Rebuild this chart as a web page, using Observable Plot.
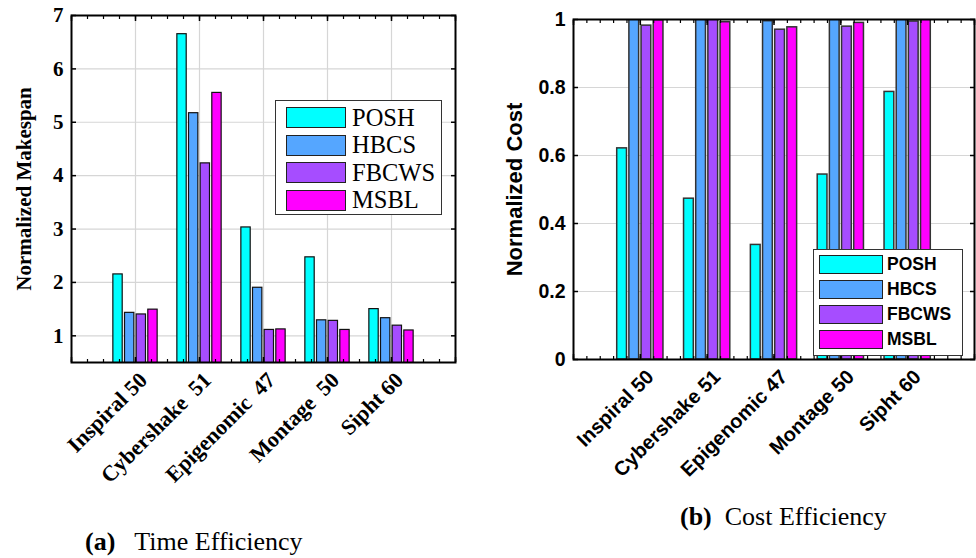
<!DOCTYPE html>
<html><head><meta charset="utf-8">
<script src="https://cdn.jsdelivr.net/npm/d3@7"></script>
<script src="https://cdn.jsdelivr.net/npm/@observablehq/plot@0.6"></script>
<style>
body{margin:0;background:#fff;width:976px;height:558px;position:relative;overflow:hidden}
.abs{position:absolute}
svg text{white-space:pre}
.leg{position:absolute;background:#fff;box-sizing:border-box}
.row{position:absolute;display:flex;align-items:center}
.sw{box-sizing:border-box;border:1.5px solid #222}
</style></head><body>
<div id="left" class="abs" style="left:0;top:0"></div>
<div id="right" class="abs" style="left:490px;top:0"></div>
<div id="legL" class="leg" style="left:275px;top:100px;width:167px;height:115px;border:1.5px solid #333"></div>
<div id="legR" class="leg" style="left:813px;top:249px;width:150px;height:107px;border:1.5px solid #333"></div>
<div class="abs" style="left:85px;top:527px;font:26px 'Liberation Serif';white-space:pre"><b>(a)</b>   Time Efficiency</div>
<div class="abs" style="left:680px;top:502px;font:26px 'Liberation Serif';white-space:pre"><b>(b)</b>  Cost Efficiency</div>
<script>
const series = ["POSH", "HBCS", "FBCWS", "MSBL"];
const colors = ["#00ffff", "#55a6ff", "#a64dff", "#ff00ff"];
const labelsTime = ["Inspiral 50", "Cybershake  51", "Epigenomic  47", "Montage  50", "Sipht 60"];
const labelsCost = ["Inspiral 50", "Cybershake 51", "Epigenomic 47", "Montage 50", "Sipht 60"];

const makespanPOSH  = [2.15, 6.65, 3.03, 2.47, 1.50];
const makespanHBCS  = [1.43, 5.17, 1.90, 1.29, 1.33];
const makespanFBCWS = [1.40, 4.23, 1.11, 1.28, 1.19];
const makespanMSBL  = [1.49, 5.55, 1.12, 1.11, 1.10];

const costPOSH  = [0.621, 0.473, 0.337, 0.544, 0.787];
const costHBCS  = [1.000, 1.000, 0.995, 1.000, 1.000];
const costFBCWS = [0.982, 1.000, 0.970, 0.979, 0.994];
const costMSBL  = [0.998, 0.992, 0.977, 0.990, 1.000];

const yTicksTime = [1, 2, 3, 4, 5, 6, 7];
const yTicksCost = [0, 0.2, 0.4, 0.6, 0.8, 1];

function flatten(arrs) {
  const out = [];
  arrs.forEach((arr, j) => arr.forEach((v, i) => out.push({i, j, series: series[j], value: v})));
  return out;
}
const dataTime = flatten([makespanPOSH, makespanHBCS, makespanFBCWS, makespanMSBL]);
const dataCost = flatten([costPOSH, costHBCS, costFBCWS, costMSBL]);

const slot = 0.182, bw = 0.146;
const groups = [1, 2, 3, 4, 5];

function chart({data, labels, yDomain, yTicks, yLabel, font, tickFont, xFont, labelFont, minorStep, vgrid, margins, width, height, barStroke, barStrokeWidth, xdx, xdy}) {
  const minor = d3.range(0, 6 + 1e-9, minorStep);
  const majorX = [0, 1, 2, 3, 4, 5, 6];
  return Plot.plot({
    width, height,
    marginLeft: margins[0], marginTop: margins[1], marginRight: margins[2], marginBottom: margins[3],
    style: {fontFamily: font, fontWeight: "bold", fontSize: tickFont + "px", background: "transparent", color: "black", overflow: "visible"},
    x: {domain: [0, 6]},
    y: {domain: yDomain},
    color: {domain: series, range: colors},
    marks: [
      Plot.ruleY(yTicks, {stroke: "#d6d6d6", strokeWidth: 1.2}),
      vgrid ? Plot.ruleX(groups, {stroke: "#d6d6d6", strokeWidth: 1.2}) : null,
      Plot.rectY(data, {
        x1: d => d.i + 1 + (d.j - 1.5) * slot - bw / 2,
        x2: d => d.i + 1 + (d.j - 1.5) * slot + bw / 2,
        y1: 0, y2: "value", fill: "series",
        stroke: barStroke, strokeWidth: barStrokeWidth, clip: true
      }),
      Plot.frame({stroke: "black", strokeWidth: 2}),
      Plot.axisY(yTicks, {anchor: "left", tickSize: -5, tickFormat: () => "", label: null, strokeWidth: 1.5}),
      Plot.axisY(yTicks, {anchor: "right", tickSize: -5, tickFormat: () => "", label: null, strokeWidth: 1.5}),
      Plot.axisY(yTicks, {anchor: "left", tickSize: 0, tickPadding: 8, label: null, fontSize: tickFont, fontWeight: "bold", tickFormat: d => String(d)}),
      Plot.axisX(minor, {anchor: "top", tickSize: -3, tickFormat: () => "", label: null, strokeWidth: 1.2}),
      Plot.axisX(minor, {anchor: "bottom", tickSize: -3, tickFormat: () => "", label: null, strokeWidth: 1.2}),
      Plot.axisX(majorX, {anchor: "top", tickSize: -5, tickFormat: () => "", label: null, strokeWidth: 1.5}),
      Plot.axisX(majorX, {anchor: "bottom", tickSize: -5, tickFormat: () => "", label: null, strokeWidth: 1.5}),
      Plot.axisX(groups, {anchor: "bottom", tickSize: 0, tickPadding: 6, tickRotate: -45, label: null,
        tickFormat: g => labels[g - 1], fontSize: xFont, fontWeight: "bold", dx: xdx, dy: xdy}),
      Plot.text([yLabel], {frameAnchor: "left", text: d => d, rotate: -90, dx: -margins[0] + 24, fontSize: labelFont, fontWeight: "bold", lineAnchor: "middle", textAnchor: "middle"})
    ]
  });
}

document.getElementById("left").append(chart({
  data: dataTime, labels: labelsTime, yDomain: [0.5, 7], yTicks: yTicksTime,
  yLabel: "Normalized Makespan", font: "Liberation Serif", tickFont: 21, xFont: 22, labelFont: 21,
  minorStep: 0.25, vgrid: true, margins: [71, 15, 25, 196], width: 480, height: 558,
  barStroke: "#111", barStrokeWidth: 1.2, xdx: 8, xdy: 8
}));
document.getElementById("right").append(chart({
  data: dataCost, labels: labelsCost, yDomain: [0, 1], yTicks: yTicksCost,
  yLabel: "Normalized Cost", font: "Liberation Sans", tickFont: 19.5, xFont: 20, labelFont: 22,
  minorStep: 0.2, vgrid: false, margins: [83, 19, 2, 199], width: 486, height: 558,
  barStroke: "#333", barStrokeWidth: 1.5, xdx: 10, xdy: 8
}));

function legend(el, {swW, swH, x0, y0, step, font, gap}) {
  series.forEach((s, j) => {
    const row = document.createElement("div");
    row.className = "row";
    row.style.left = x0 + "px";
    row.style.top = (y0 + j * step) + "px";
    row.style.height = swH + "px";
    row.style.font = font;
    const sw = document.createElement("div");
    sw.className = "sw";
    sw.style.width = swW + "px"; sw.style.height = swH + "px";
    sw.style.background = colors[j];
    const t = document.createElement("span");
    t.textContent = s;
    t.style.marginLeft = gap + "px";
    row.append(sw, t);
    el.append(row);
  });
}
legend(document.getElementById("legL"), {swW: 60, swH: 21, x0: 10, y0: 6, step: 27.5, font: "24.5px 'Liberation Serif'", gap: 6});
legend(document.getElementById("legR"), {swW: 64, swH: 19, x0: 5, y0: 5, step: 25, font: "bold 17.5px 'Liberation Sans'", gap: 4});
</script>
</body></html>
